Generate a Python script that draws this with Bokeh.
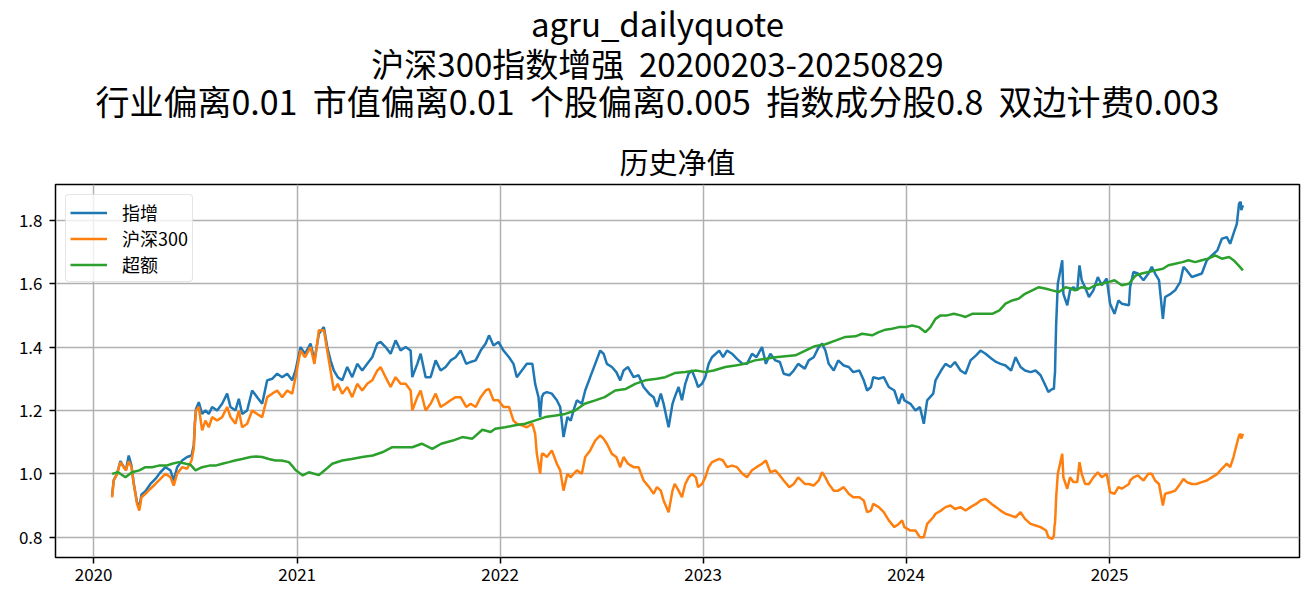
import pandas as pd
from bokeh.plotting import figure
from bokeh.layouts import column
from bokeh.models import (Range1d, FixedTicker, DatetimeTickFormatter, PrintfTickFormatter,
                          ColumnDataSource, Legend)
from bokeh.core.properties import value
from bokeh.embed import file_html
from bokeh.resources import INLINE

# ---------------- texts ----------------
SP2 = "\u00a0\u00a0"   # two spaces that SVG will not collapse
SUPTITLE_LINES = [
    "agru_dailyquote",
    "沪深300指数增强" + SP2 + "20200203-20250829",
    SP2.join(["行业偏离0.01", "市值偏离0.01", "个股偏离0.005", "指数成分股0.8", "双边计费0.003"]),
]
AX_TITLE = "历史净值"
SERIES_NAMES = ["指增", "沪深300", "超额"]
YEAR_TICKS = [2020, 2021, 2022, 2023, 2024, 2025]
Y_TICKS = [0.8, 1.0, 1.2, 1.4, 1.6, 1.8]

# ---------------- data: 指增 / 沪深300 (same dates) ----------------
IDX_DATES = [
    "2020-02-03", "2020-02-06", "2020-02-12", "2020-02-18", "2020-02-24", "2020-02-28",
    "2020-03-04", "2020-03-09", "2020-03-13", "2020-03-19", "2020-03-23", "2020-03-27",
    "2020-04-03", "2020-04-12", "2020-04-21", "2020-04-30", "2020-05-09", "2020-05-18",
    "2020-05-24", "2020-05-30", "2020-06-08", "2020-06-17", "2020-06-25", "2020-06-29",
    "2020-07-01", "2020-07-03", "2020-07-08", "2020-07-14", "2020-07-20", "2020-07-26",
    "2020-08-01", "2020-08-10", "2020-08-19", "2020-08-28", "2020-09-03", "2020-09-12",
    "2020-09-18", "2020-09-24", "2020-10-03", "2020-10-12", "2020-10-21", "2020-10-30",
    "2020-11-08", "2020-11-17", "2020-11-26", "2020-12-05", "2020-12-14", "2020-12-23",
    "2020-12-29",
    "2021-01-07", "2021-01-15", "2021-01-25", "2021-02-01", "2021-02-09", "2021-02-18",
    "2021-02-24", "2021-03-02", "2021-03-08", "2021-03-15", "2021-03-23", "2021-04-01",
    "2021-04-10", "2021-04-19", "2021-04-28", "2021-05-07", "2021-05-16", "2021-05-25",
    "2021-05-31", "2021-06-09", "2021-06-18", "2021-06-27", "2021-07-06", "2021-07-15",
    "2021-07-24", "2021-07-27", "2021-08-05", "2021-08-11", "2021-08-20", "2021-08-29",
    "2021-09-07", "2021-09-16", "2021-09-25", "2021-10-04", "2021-10-13", "2021-10-22",
    "2021-11-01", "2021-11-09", "2021-11-18", "2021-11-27", "2021-12-06", "2021-12-12",
    "2021-12-20", "2021-12-29",
    "2022-01-07", "2022-01-17", "2022-01-25", "2022-01-31", "2022-02-09", "2022-02-18",
    "2022-02-28", "2022-03-05", "2022-03-08", "2022-03-11", "2022-03-14", "2022-03-17",
    "2022-03-20", "2022-03-26", "2022-04-04", "2022-04-13", "2022-04-19", "2022-04-25",
    "2022-05-02", "2022-05-08", "2022-05-13", "2022-05-19", "2022-05-28", "2022-06-03",
    "2022-06-12", "2022-06-21", "2022-06-30", "2022-07-06", "2022-07-12", "2022-07-21",
    "2022-07-29", "2022-08-05", "2022-08-11", "2022-08-19", "2022-08-29", "2022-09-07",
    "2022-09-16", "2022-09-26", "2022-10-04", "2022-10-10", "2022-10-17", "2022-10-22",
    "2022-10-31", "2022-11-07", "2022-11-11", "2022-11-18", "2022-11-24", "2022-11-30",
    "2022-12-06", "2022-12-12", "2022-12-19", "2022-12-23", "2022-12-30",
    "2023-01-05", "2023-01-11", "2023-01-17", "2023-01-30", "2023-02-06", "2023-02-13",
    "2023-02-22", "2023-03-03", "2023-03-13", "2023-03-21", "2023-03-30", "2023-04-07",
    "2023-04-17", "2023-04-24", "2023-05-02", "2023-05-11", "2023-05-19", "2023-05-26",
    "2023-06-05", "2023-06-13", "2023-06-21", "2023-07-03", "2023-07-10", "2023-07-19",
    "2023-07-28", "2023-08-03", "2023-08-09", "2023-08-15", "2023-08-24", "2023-09-01",
    "2023-09-11", "2023-09-20", "2023-09-28", "2023-10-09", "2023-10-17", "2023-10-23",
    "2023-10-30", "2023-11-03", "2023-11-13", "2023-11-22", "2023-12-01", "2023-12-11",
    "2023-12-19", "2023-12-25", "2023-12-29",
    "2024-01-09", "2024-01-18", "2024-01-26", "2024-02-02", "2024-02-08", "2024-02-19",
    "2024-02-23", "2024-03-04", "2024-03-12", "2024-03-21", "2024-03-29", "2024-04-08",
    "2024-04-17", "2024-04-26", "2024-05-06", "2024-05-14", "2024-05-23", "2024-06-03",
    "2024-06-11", "2024-06-19", "2024-06-28", "2024-07-08", "2024-07-16", "2024-07-25",
    "2024-08-02", "2024-08-12", "2024-08-21", "2024-08-30", "2024-09-09", "2024-09-13",
    "2024-09-20", "2024-09-23", "2024-09-24", "2024-09-25", "2024-09-26", "2024-09-27",
    "2024-09-30", "2024-10-08", "2024-10-10", "2024-10-17", "2024-10-22", "2024-10-28",
    "2024-11-04", "2024-11-08", "2024-11-12", "2024-11-18", "2024-11-25", "2024-12-03",
    "2024-12-11", "2024-12-18", "2024-12-27",
    "2025-01-02", "2025-01-10", "2025-01-17", "2025-01-23", "2025-02-05", "2025-02-07",
    "2025-02-13", "2025-02-21", "2025-03-03", "2025-03-12", "2025-03-18", "2025-03-24",
    "2025-03-31", "2025-04-07", "2025-04-11", "2025-04-21", "2025-04-29", "2025-05-08",
    "2025-05-14", "2025-05-20", "2025-05-29", "2025-06-06", "2025-06-16", "2025-06-25",
    "2025-07-04", "2025-07-14", "2025-07-22", "2025-07-31", "2025-08-06", "2025-08-12",
    "2025-08-18", "2025-08-22", "2025-08-25", "2025-08-26", "2025-08-29",
]

ENH_NAV = [
    0.930, 0.980, 1.000, 1.040, 1.022, 1.012,
    1.058, 1.025, 0.970, 0.910, 0.895, 0.935,
    0.945, 0.968, 0.984, 1.005, 1.021, 1.011,
    0.979, 1.021, 1.042, 1.053, 1.058, 1.090,
    1.160, 1.205, 1.226, 1.189, 1.200, 1.189,
    1.211, 1.200, 1.221, 1.253, 1.211, 1.200,
    1.237, 1.189, 1.200, 1.263, 1.242, 1.221,
    1.295, 1.300, 1.316, 1.305, 1.316, 1.295,
    1.326,
    1.400, 1.379, 1.411, 1.358, 1.442, 1.463,
    1.400, 1.358, 1.326, 1.305, 1.295, 1.337,
    1.305, 1.347, 1.326, 1.347, 1.368, 1.411,
    1.416, 1.400, 1.379, 1.421, 1.389, 1.400,
    1.389, 1.305, 1.347, 1.379, 1.305, 1.305,
    1.358, 1.326, 1.337, 1.358, 1.368, 1.389,
    1.347, 1.353, 1.358, 1.389, 1.411, 1.437,
    1.405, 1.416,
    1.389, 1.368, 1.347, 1.305, 1.326, 1.347,
    1.347, 1.284, 1.263, 1.242, 1.179, 1.242,
    1.253, 1.258, 1.253, 1.232, 1.211, 1.116,
    1.179, 1.168, 1.200, 1.232, 1.221, 1.263,
    1.305, 1.347, 1.389, 1.379, 1.347, 1.337,
    1.321, 1.295, 1.326, 1.337, 1.305, 1.311,
    1.274, 1.253, 1.242, 1.211, 1.253, 1.221,
    1.147, 1.221, 1.242, 1.274, 1.232, 1.284,
    1.316, 1.326, 1.295, 1.274, 1.284,
    1.305, 1.347, 1.368, 1.389, 1.368, 1.389,
    1.379, 1.363, 1.347, 1.347, 1.379, 1.368,
    1.400, 1.347, 1.379, 1.358, 1.353, 1.316,
    1.311, 1.326, 1.347, 1.332, 1.358, 1.368,
    1.400, 1.411, 1.389, 1.347, 1.326, 1.358,
    1.342, 1.337, 1.321, 1.326, 1.295, 1.263,
    1.274, 1.305, 1.300, 1.305, 1.274, 1.263,
    1.221, 1.253, 1.232,
    1.221, 1.200, 1.211, 1.158, 1.232, 1.253,
    1.295, 1.326, 1.347, 1.337, 1.353, 1.326,
    1.316, 1.358, 1.374, 1.389, 1.379, 1.363,
    1.353, 1.347, 1.342, 1.326, 1.368, 1.337,
    1.326, 1.321, 1.326, 1.311, 1.274, 1.258,
    1.268, 1.268, 1.300, 1.320, 1.400, 1.470,
    1.600, 1.674, 1.568, 1.532, 1.579, 1.589,
    1.579, 1.658, 1.611, 1.589, 1.558, 1.579,
    1.621, 1.595, 1.616,
    1.537, 1.505, 1.547, 1.537, 1.532, 1.589,
    1.637, 1.632, 1.611, 1.632, 1.653, 1.632,
    1.611, 1.489, 1.558, 1.568, 1.579, 1.605,
    1.653, 1.642, 1.621, 1.626, 1.632, 1.674,
    1.689, 1.705, 1.742, 1.747, 1.726, 1.758,
    1.789, 1.853, 1.858, 1.832, 1.847,
]

CSI300_NAV = [
    0.926, 0.979, 1.000, 1.037, 1.021, 1.011,
    1.040, 1.021, 0.968, 0.905, 0.884, 0.926,
    0.937, 0.953, 0.968, 0.984, 1.000, 0.989,
    0.963, 1.000, 1.021, 1.016, 1.042, 1.080,
    1.158, 1.200, 1.211, 1.137, 1.168, 1.147,
    1.179, 1.168, 1.179, 1.211, 1.179, 1.158,
    1.200, 1.147, 1.158, 1.200, 1.189, 1.179,
    1.242, 1.253, 1.263, 1.242, 1.263, 1.253,
    1.305,
    1.389, 1.368, 1.400, 1.347, 1.453, 1.453,
    1.389, 1.326, 1.263, 1.284, 1.253, 1.274,
    1.242, 1.284, 1.263, 1.284, 1.295, 1.326,
    1.337, 1.305, 1.274, 1.305, 1.284, 1.284,
    1.263, 1.200, 1.242, 1.263, 1.200, 1.221,
    1.253, 1.211, 1.221, 1.232, 1.242, 1.242,
    1.211, 1.221, 1.211, 1.242, 1.263, 1.268,
    1.232, 1.232,
    1.211, 1.211, 1.168, 1.158, 1.153, 1.147,
    1.158, 1.126, 1.063, 1.032, 1.000, 1.063,
    1.063, 1.053, 1.074, 1.032, 1.011, 0.947,
    1.000, 0.989, 1.000, 1.011, 1.000, 1.053,
    1.074, 1.105, 1.121, 1.111, 1.095, 1.063,
    1.053, 1.021, 1.053, 1.032, 1.021, 1.021,
    0.979, 0.958, 0.937, 0.958, 0.947, 0.916,
    0.879, 0.947, 0.968, 0.947, 0.926, 0.968,
    0.989, 1.000, 0.989, 0.958, 0.968,
    0.989, 1.021, 1.037, 1.047, 1.042, 1.021,
    1.026, 1.021, 1.000, 0.989, 1.011, 1.021,
    1.032, 1.042, 1.005, 1.011, 0.995, 0.979,
    0.958, 0.968, 0.989, 0.968, 0.968, 0.963,
    0.979, 1.005, 0.989, 0.968, 0.947, 0.947,
    0.958, 0.937, 0.926, 0.926, 0.916, 0.879,
    0.884, 0.905, 0.895, 0.879, 0.853, 0.832,
    0.842, 0.853, 0.832,
    0.821, 0.821, 0.800, 0.800, 0.842, 0.863,
    0.874, 0.884, 0.895, 0.900, 0.889, 0.895,
    0.884, 0.895, 0.905, 0.916, 0.921, 0.905,
    0.895, 0.884, 0.874, 0.868, 0.863, 0.879,
    0.858, 0.842, 0.837, 0.832, 0.821, 0.800,
    0.795, 0.805, 0.835, 0.845, 0.880, 0.925,
    1.000, 1.063, 0.989, 0.953, 0.989, 0.974,
    0.974, 1.037, 1.000, 0.968, 0.968, 0.989,
    1.005, 0.989, 1.000,
    0.942, 0.937, 0.958, 0.953, 0.968, 0.979,
    0.989, 0.995, 0.979, 1.000, 1.000, 0.979,
    0.968, 0.900, 0.937, 0.942, 0.947, 0.968,
    0.984, 0.974, 0.968, 0.968, 0.974, 0.979,
    0.989, 1.000, 1.016, 1.032, 1.021, 1.053,
    1.095, 1.121, 1.126, 1.111, 1.126,
]

# ---------------- data: 超额 ----------------
EXC_DATES = [
    "2020-02-03", "2020-02-14", "2020-02-27", "2020-03-10", "2020-03-23", "2020-04-03",
    "2020-04-15", "2020-04-27", "2020-05-11", "2020-05-21", "2020-06-02", "2020-06-15",
    "2020-06-23", "2020-07-02", "2020-07-14", "2020-07-27", "2020-08-07", "2020-08-19",
    "2020-08-31", "2020-09-11", "2020-09-24", "2020-10-09", "2020-10-19", "2020-10-30",
    "2020-11-11", "2020-11-23", "2020-12-04", "2020-12-17", "2020-12-25", "2020-12-29",
    "2021-01-11", "2021-01-22", "2021-02-09", "2021-02-22", "2021-03-05", "2021-03-23",
    "2021-04-09", "2021-04-28", "2021-05-17", "2021-06-03", "2021-06-21", "2021-07-09",
    "2021-07-27", "2021-08-13", "2021-09-01", "2021-09-17", "2021-10-08", "2021-10-25",
    "2021-11-12", "2021-11-30", "2021-12-15", "2021-12-23",
    "2022-01-10", "2022-01-28", "2022-02-15", "2022-03-04", "2022-03-23", "2022-04-11",
    "2022-04-28", "2022-05-16", "2022-06-02", "2022-06-21", "2022-07-08", "2022-07-27",
    "2022-08-15", "2022-09-01", "2022-09-19", "2022-10-10", "2022-10-25", "2022-11-11",
    "2022-11-30", "2022-12-19",
    "2023-01-05", "2023-01-20", "2023-02-10", "2023-02-28", "2023-03-17", "2023-04-04",
    "2023-04-24", "2023-05-11", "2023-05-29", "2023-06-16", "2023-07-04", "2023-07-21",
    "2023-08-09", "2023-08-28", "2023-09-14", "2023-10-02", "2023-10-14", "2023-11-01",
    "2023-11-13", "2023-11-25", "2023-12-07", "2023-12-19", "2023-12-31",
    "2024-01-12", "2024-01-24", "2024-02-05", "2024-02-14", "2024-02-23", "2024-03-03",
    "2024-03-15", "2024-03-27", "2024-04-08", "2024-04-17", "2024-04-29", "2024-05-10",
    "2024-05-23", "2024-06-04", "2024-06-17", "2024-06-28", "2024-07-10", "2024-07-22",
    "2024-08-02", "2024-08-15", "2024-08-27", "2024-09-09", "2024-09-20", "2024-10-02",
    "2024-10-14", "2024-10-25", "2024-10-31", "2024-11-12", "2024-11-25", "2024-12-06",
    "2024-12-18", "2024-12-30",
    "2025-01-10", "2025-01-23", "2025-02-05", "2025-02-17", "2025-02-28", "2025-03-12",
    "2025-03-24", "2025-04-07", "2025-04-17", "2025-04-29", "2025-05-12", "2025-05-23",
    "2025-06-04", "2025-06-16", "2025-06-27", "2025-07-10", "2025-07-22", "2025-08-04",
    "2025-08-12", "2025-08-21", "2025-08-29",
]

EXC_NAV = [
    1.000, 1.005, 0.989, 1.005, 1.011, 1.021,
    1.021, 1.026, 1.026, 1.032, 1.037, 1.032,
    1.029, 1.011, 1.021, 1.026, 1.026, 1.032,
    1.037, 1.042, 1.047, 1.053, 1.055, 1.053,
    1.047, 1.042, 1.042, 1.037, 1.021, 1.012,
    0.995, 1.005, 0.996, 1.015, 1.032, 1.042,
    1.047, 1.053, 1.058, 1.068, 1.084, 1.084,
    1.084, 1.095, 1.079, 1.095, 1.105, 1.116,
    1.111, 1.139, 1.132, 1.142,
    1.147, 1.153, 1.158, 1.168, 1.179, 1.184,
    1.189, 1.200, 1.221, 1.232, 1.242, 1.263,
    1.268, 1.284, 1.295, 1.300, 1.305, 1.318,
    1.321, 1.326,
    1.321, 1.326, 1.337, 1.342, 1.347, 1.358,
    1.363, 1.368, 1.371, 1.374, 1.389, 1.403,
    1.409, 1.421, 1.432, 1.434, 1.442, 1.437,
    1.447, 1.455, 1.458, 1.463, 1.463,
    1.468, 1.463, 1.447, 1.463, 1.489, 1.500,
    1.500, 1.505, 1.500, 1.495, 1.505, 1.505,
    1.505, 1.505, 1.516, 1.537, 1.547, 1.553,
    1.568, 1.579, 1.589, 1.584, 1.579, 1.574,
    1.589, 1.584, 1.579, 1.589, 1.584, 1.595,
    1.600, 1.605,
    1.611, 1.595, 1.600, 1.626, 1.632, 1.637,
    1.642, 1.647, 1.658, 1.663, 1.668, 1.674,
    1.668, 1.674, 1.679, 1.689, 1.679, 1.684,
    1.674, 1.658, 1.642,
]

# ---------------- styling / layout ----------------
FONT = "Noto Sans CJK SC"
COLORS = ["#1f77b4", "#ff7f0e", "#2ca02c"]
TOTAL_W, TOTAL_H = 1302, 594
HEAD_H = 133                       # header strip holding the figure-level title lines
FRAME_LEFT, FRAME_RIGHT, FRAME_TOP, FRAME_BOTTOM = 55, 1299, 184, 557
MAIN_H = TOTAL_H - HEAD_H

# ---- header: three centred title lines ----
head = figure(width=TOTAL_W, height=HEAD_H, x_range=Range1d(0, TOTAL_W),
              y_range=Range1d(HEAD_H, 0), output_backend="svg", toolbar_location=None,
              x_axis_location=None, y_axis_location=None, min_border=0)
head.outline_line_color = None
head.grid.visible = False
head.background_fill_color = "white"
head.border_fill_color = "white"
HEAD_X = [630, 630, 630]
HEAD_Y = [22, 62, 100]
HEAD_SIZES = ["33px", "33px", "34px"]
head.text(x=HEAD_X, y=HEAD_Y, text=SUPTITLE_LINES, text_font=value(FONT),
          text_font_size=HEAD_SIZES, text_color="black",
          text_align="center", text_baseline="alphabetic")

# ---- main chart ----
d0 = pd.Timestamp(IDX_DATES[0])
d1 = pd.Timestamp(IDX_DATES[-1])
span = d1 - d0
x_start = d0 - span * 0.05
x_end = d1 + span * 0.05

p = figure(width=TOTAL_W, height=MAIN_H, x_axis_type="datetime", output_backend="svg",
           toolbar_location=None, x_range=Range1d(x_start, x_end),
           y_range=Range1d(0.736, 1.913),
           min_border_left=FRAME_LEFT, min_border_right=TOTAL_W - FRAME_RIGHT,
           min_border_top=FRAME_TOP - HEAD_H, min_border_bottom=TOTAL_H - FRAME_BOTTOM,
           title=AX_TITLE)
p.background_fill_color = "white"
p.border_fill_color = "white"
p.outline_line_color = "black"
p.outline_line_width = 1.5

p.title.align = "center"
p.title.text_font = FONT
p.title.text_font_size = "29px"
p.title.text_font_style = "normal"
p.title.text_color = "black"
p.title.standoff = 6

src_idx = ColumnDataSource(dict(date=pd.to_datetime(IDX_DATES), enh=ENH_NAV, csi=CSI300_NAV))
src_exc = ColumnDataSource(dict(date=pd.to_datetime(EXC_DATES), exc=EXC_NAV))

r1 = p.line("date", "enh", source=src_idx, line_color=COLORS[0], line_width=2.5)
r2 = p.line("date", "csi", source=src_idx, line_color=COLORS[1], line_width=2.5)
r3 = p.line("date", "exc", source=src_exc, line_color=COLORS[2], line_width=2.5)

legend = Legend(items=[(SERIES_NAMES[0], [r1]), (SERIES_NAMES[1], [r2]), (SERIES_NAMES[2], [r3])],
                location="top_left")
legend.margin = 10
legend.padding = 4
legend.spacing = 0
legend.glyph_width = 37
legend.glyph_height = 25
legend.label_height = 25
legend.label_standoff = 15
legend.label_text_font = FONT
legend.label_text_font_size = "18px"
legend.label_text_color = "black"
legend.border_line_color = "#cccccc"
legend.border_line_width = 1.5
legend.background_fill_color = "white"
legend.background_fill_alpha = 0.8
if "border_radius" in Legend.properties():
    legend.border_radius = 4
p.add_layout(legend)

# axes
year_ms = [pd.Timestamp(f"{y}-01-01").value / 1e6 for y in YEAR_TICKS]
p.xaxis.ticker = FixedTicker(ticks=year_ms)
p.xaxis.formatter = DatetimeTickFormatter(years="%Y", months="%Y", days="%Y", hours="%Y")
p.yaxis.ticker = FixedTicker(ticks=Y_TICKS)
p.yaxis.formatter = PrintfTickFormatter(format="%.1f")
for ax in (p.xaxis[0], p.yaxis[0]):
    ax.axis_line_color = None
    ax.major_tick_line_color = "black"
    ax.major_tick_line_width = 1.5
    ax.major_tick_out = 6
    ax.major_tick_in = 0
    ax.minor_tick_line_color = None
    ax.major_label_text_font = FONT
    ax.major_label_text_font_size = "17px"
    ax.major_label_text_color = "black"
p.xaxis.major_label_standoff = 4
p.yaxis.major_label_standoff = 7

p.xgrid.grid_line_color = "#b0b0b0"
p.ygrid.grid_line_color = "#b0b0b0"
p.xgrid.grid_line_width = 1.5
p.ygrid.grid_line_width = 1.5

layout = column(head, p, spacing=0)
open("out.html", "w").write(file_html(layout, INLINE))
